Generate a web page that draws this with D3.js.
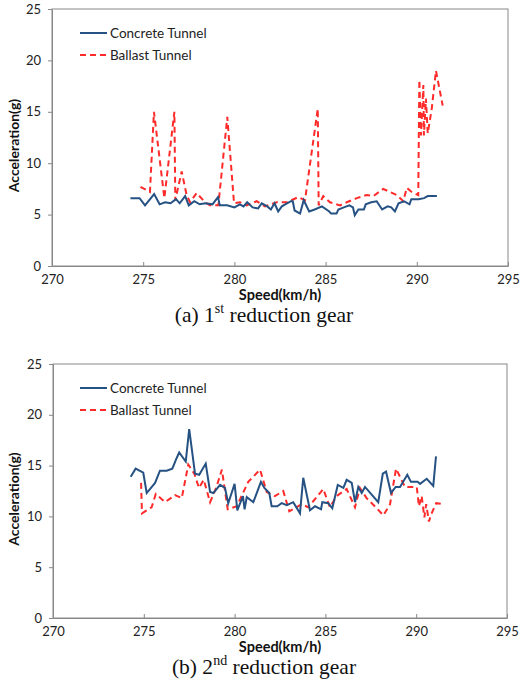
<!DOCTYPE html>
<html>
<head>
<meta charset="utf-8">
<script src="https://cdn.jsdelivr.net/npm/d3@7"></script>
<style>
  body { margin: 0; background: #fff; }
</style>
</head>
<body>
<div id="chart"></div>
<script>
// speed (km/h), acceleration (g)
var concrete1 = [
  [274.3,6.6],[274.8,6.6],[275.1,5.9],[275.6,7.0],[275.9,6.0],[276.2,6.2],[276.5,6.1],[276.8,6.5],
  [277.0,6.1],[277.3,6.8],[277.5,5.9],[277.8,6.3],[278.1,6.0],[278.4,6.1],[278.8,6.0],[279.1,6.7],
  [279.2,5.9],[279.6,5.9],[280.0,5.7],[280.3,6.0],[280.5,5.8],[280.7,6.2],[281.0,5.7],[281.3,5.6],
  [281.5,6.1],[281.8,5.8],[282.0,5.5],[282.2,6.1],[282.4,5.3],[282.6,5.8],[283.1,6.3],[283.2,6.3],
  [283.3,5.4],[283.6,5.1],[283.8,6.4],[284.1,5.3],[284.4,5.5],[284.8,5.8],[285.2,5.3],[285.3,5.1],
  [285.6,5.1],[285.7,5.5],[286.0,5.7],[286.3,5.9],[286.5,5.7],[286.6,4.95],[286.8,5.5],[287.1,5.5],
  [287.2,6.0],[287.5,6.2],[287.8,6.3],[288.1,5.5],[288.4,5.8],[288.6,5.7],[288.8,5.3],[289.0,6.1],
  [289.3,6.3],[289.6,6.0],[289.7,6.5],[290.1,6.5],[290.4,6.6],[290.6,6.8],[291.1,6.8]
];
var ballast1 = [
  [274.85,7.7],[275.37,7.2],[275.59,15.0],[276.16,6.6],[276.71,15.0],[276.76,6.4],[277.11,9.2],
  [277.38,6.9],[277.57,6.2],[277.93,7.1],[278.39,6.2],[278.66,5.9],[279.12,5.9],[279.61,14.5],
  [279.98,6.1],[280.31,6.2],[280.67,5.9],[281.22,6.3],[281.68,5.8],[282.32,6.2],[282.87,6.2],
  [283.5,6.7],[283.87,6.4],[284.57,15.3],[284.62,5.9],[284.87,6.8],[285.24,6.2],[285.79,5.9],
  [286.16,6.2],[286.71,6.6],[287.25,6.9],[287.62,6.8],[288.16,7.5],[288.9,6.9],[289.26,6.3],
  [289.45,7.6],[289.72,7.2],[290.08,6.9],[290.14,18.1],[290.23,12.7],[290.36,17.6],[290.39,12.7],
  [290.5,16.3],[290.6,12.9],[290.82,15.3],[291.05,19.0],[291.42,15.6]
];
var concrete2 = [
  [274.28,13.9],[274.55,14.7],[274.97,14.3],[275.16,12.3],[275.62,13.3],[275.89,14.5],[276.26,14.5],
  [276.57,14.7],[276.8,15.7],[276.95,16.3],[277.31,15.4],[277.5,18.6],[277.82,14.2],[278.05,14.1],
  [278.41,15.2],[278.65,12.4],[278.83,12.3],[279.2,13.1],[279.47,12.8],[279.65,11.3],[280.0,13.2],
  [280.15,10.6],[280.46,12.0],[280.55,10.7],[280.67,11.9],[281.03,11.4],[281.45,13.4],[281.64,12.8],
  [281.91,12.3],[282.04,11.0],[282.35,11.0],[282.59,11.3],[282.87,11.1],[283.23,11.4],[283.6,10.3],
  [283.78,13.8],[284.15,10.6],[284.43,11.0],[284.76,10.7],[284.83,11.4],[285.16,11.3],[285.38,10.8],
  [285.68,13.1],[285.99,12.8],[286.17,13.6],[286.45,13.3],[286.63,11.4],[286.81,12.9],[287.0,12.3],
  [287.18,12.9],[287.91,11.4],[288.16,14.2],[288.34,14.4],[288.61,12.3],[288.87,12.9],[289.11,12.9],
  [289.51,14.1],[289.71,13.4],[290.08,13.4],[290.21,13.2],[290.58,13.7],[290.94,13.0],[291.09,15.9]
];
var ballast2 = [
  [274.85,13.3],[274.9,10.3],[275.43,10.9],[275.66,12.2],[276.17,11.4],[276.72,12.1],[277.09,11.8],
  [277.45,15.1],[277.78,14.2],[278.04,12.8],[278.3,13.6],[278.65,11.4],[279.0,12.9],[279.3,14.6],
  [279.62,10.7],[280.12,11.0],[280.75,13.4],[281.4,14.6],[281.77,12.4],[282.22,12.0],[282.68,12.5],
  [283.01,10.5],[283.7,11.2],[284.05,10.9],[284.52,11.9],[284.88,12.7],[285.25,10.9],[285.62,12.0],
  [286.17,12.7],[286.63,10.9],[286.9,12.8],[287.27,11.8],[287.83,10.8],[288.19,10.1],[288.56,11.2],
  [288.89,14.7],[289.38,12.9],[290.03,12.9],[290.15,11.0],[290.3,12.0],[290.45,9.9],[290.55,11.2],
  [290.7,9.5],[290.85,10.3],[291.1,11.3],[291.5,11.2]
];
var xTicks = [270, 275, 280, 285, 290, 295];
var yTicks = [0, 5, 10, 15, 20, 25];
var seriesNames = ["Concrete Tunnel", "Ballast Tunnel"];

var sans = "Lato, 'Open Sans', sans-serif";
var serif = "'Liberation Serif', 'Times New Roman', serif";

var svg = d3.select("#chart").append("svg")
    .attr("width", 520)
    .attr("height", 700)
    .style("font-family", sans);

function drawPanel(panel) {
  var x = d3.scaleLinear().domain([270, 295]).range([panel.left, panel.right]);
  var y = d3.scaleLinear().domain([0, 25]).range([panel.bottom, panel.top]);
  var g = svg.append("g");

  // plot frame
  g.append("rect")
      .attr("x", panel.left).attr("y", panel.top)
      .attr("width", panel.right - panel.left).attr("height", panel.bottom - panel.top)
      .attr("fill", "none").attr("stroke", "#888").attr("stroke-width", 1);

  // x axis, ticks pointing into the plot
  var xa = g.append("g")
      .attr("transform", "translate(0," + panel.bottom + ")")
      .call(d3.axisBottom(x).tickValues(xTicks).tickSizeInner(-4).tickSizeOuter(0).tickPadding(9));
  xa.select(".domain").attr("stroke", "#888");
  xa.selectAll("line").attr("stroke", "#888");
  xa.selectAll("text").style("font-size", "13px").style("font-family", sans).attr("fill", "#222");

  var ya = g.append("g")
      .attr("transform", "translate(" + panel.left + ",0)")
      .call(d3.axisLeft(y).tickValues(yTicks).tickSizeInner(4).tickSizeOuter(0).tickPadding(7));
  ya.select(".domain").attr("stroke", "#888");
  ya.selectAll("line").attr("stroke", "#888");
  ya.selectAll("text").style("font-size", "13px").style("font-family", sans).attr("fill", "#222");

  var line = d3.line().x(function(d) { return x(d[0]); }).y(function(d) { return y(d[1]); });

  g.append("path").datum(panel.ballast)
      .attr("d", line).attr("fill", "none")
      .attr("stroke", "#ff2a2a").attr("stroke-width", 2).attr("stroke-dasharray", "6,4");
  g.append("path").datum(panel.concrete)
      .attr("d", line).attr("fill", "none")
      .attr("stroke", "#255283").attr("stroke-width", 2);

  // legend
  var lg = g.append("g").attr("transform", "translate(80," + (panel.top + 24) + ")");
  lg.append("line").attr("x1", 0).attr("x2", 27).attr("y1", 0).attr("y2", 0)
      .attr("stroke", "#255283").attr("stroke-width", 2);
  lg.append("line").attr("x1", 0).attr("x2", 27).attr("y1", 22).attr("y2", 22)
      .attr("stroke", "#ff2a2a").attr("stroke-width", 2).attr("stroke-dasharray", "6,4");
  lg.selectAll("text.leg").data(seriesNames).enter().append("text")
      .attr("x", 30).attr("y", function(d, i) { return i * 22 + 5; })
      .style("font-size", "13.5px").attr("fill", "#222")
      .text(function(d) { return d; });

  // axis titles
  g.append("text")
      .attr("x", 280).attr("y", panel.bottom + 34)
      .attr("text-anchor", "middle").style("font-size", "14.5px").attr("font-weight", "bold")
      .attr("fill", "#111")
      .text("Speed(km/h)");
  g.append("text")
      .attr("transform", "translate(19," + ((panel.top + panel.bottom) / 2 + 8) + ") rotate(-90)")
      .attr("text-anchor", "middle").style("font-size", "14px").attr("font-weight", "bold")
      .attr("fill", "#111")
      .text("Acceleration(g)");

  // caption
  var cap = g.append("text")
      .attr("x", 264).attr("y", panel.bottom + 56)
      .attr("text-anchor", "middle")
      .style("font-family", serif)
      .style("font-size", "21.5px").attr("fill", "#111");
  cap.append("tspan").text(panel.label + " " + panel.num);
  cap.append("tspan").attr("dy", -9).style("font-size", "14px").text(panel.sup);
  cap.append("tspan").attr("dy", 9).text(" reduction gear");
}

drawPanel({left: 52, right: 508, top: 9, bottom: 266,
  concrete: concrete1, ballast: ballast1, label: "(a)", num: "1", sup: "st"});
drawPanel({left: 53, right: 507, top: 364, bottom: 618,
  concrete: concrete2, ballast: ballast2, label: "(b)", num: "2", sup: "nd"});
</script>
</body>
</html>
